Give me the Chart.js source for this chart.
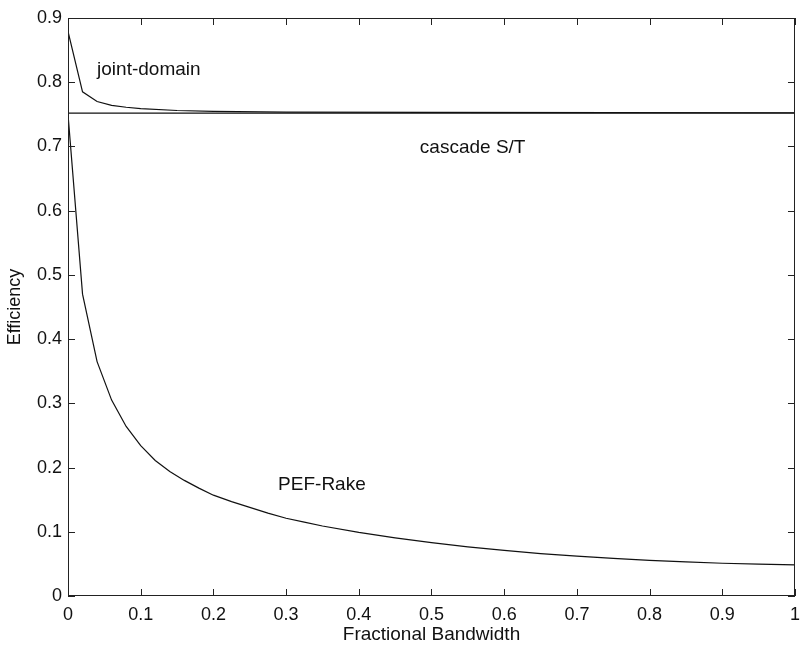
<!DOCTYPE html>
<html>
<head>
<meta charset="utf-8">
<script src="https://cdn.jsdelivr.net/npm/chart.js@4/dist/chart.umd.min.js"></script>
<style>
  html, body { margin: 0; padding: 0; background: #fff; }
  #wrap { width: 808px; height: 646px; }
</style>
</head>
<body>
<div id="wrap"><canvas id="effChart" width="808" height="646"></canvas></div>
<script>
// values
const pefX = [0, 0.02, 0.04, 0.06, 0.08, 0.10, 0.12, 0.14, 0.16, 0.18, 0.20, 0.225, 0.25, 0.275, 0.30, 0.325, 0.35, 0.40, 0.45, 0.50, 0.55, 0.60, 0.65, 0.70, 0.75, 0.80, 0.85, 0.90, 0.95, 1.00];
const pefY = [0.75, 0.47, 0.365, 0.305, 0.264, 0.234, 0.211, 0.194, 0.180, 0.168, 0.157, 0.147, 0.138, 0.129, 0.121, 0.115, 0.109, 0.099, 0.0905, 0.083, 0.0765, 0.071, 0.066, 0.062, 0.0585, 0.0555, 0.053, 0.051, 0.0495, 0.0485];

const jointX = [0, 0.02, 0.04, 0.06, 0.08, 0.10, 0.15, 0.20, 0.30, 0.50, 1.00];
const jointY = [0.879, 0.785, 0.770, 0.764, 0.761, 0.759, 0.756, 0.7545, 0.7535, 0.753, 0.7525];

const cascadeX = [0, 1];
const cascadeY = [0.752, 0.752];

const xTicks = [0, 0.1, 0.2, 0.3, 0.4, 0.5, 0.6, 0.7, 0.8, 0.9, 1];
const yTicks = [0, 0.1, 0.2, 0.3, 0.4, 0.5, 0.6, 0.7, 0.8, 0.9];

// curve labels: [text, x, y] (left edge, vertical middle)
const curveLabels = [
  ['joint-domain', 0.040, 0.819],
  ['cascade S/T', 0.484, 0.698],
  ['PEF-Rake', 0.289, 0.173]
];

function toPoints(xs, ys) {
  let pts = [];
  for (let i = 0; i < xs.length; i++) {
    pts.push({ x: xs[i], y: ys[i] });
  }
  return pts;
}

const FONT = '"Liberation Sans", Arial, Helvetica, sans-serif';

// box + inward ticks on all four sides, like the old matlab plots
const boxTicks = {
  id: 'boxTicks',
  afterDraw(chart) {
    const ctx = chart.ctx;
    const a = chart.chartArea;
    const xs = chart.scales.x, ys = chart.scales.y;
    ctx.save();
    ctx.strokeStyle = '#222';
    ctx.lineWidth = 1;
    ctx.strokeRect(a.left + 0.5, a.top + 0.5, a.right - a.left - 1, a.bottom - a.top - 1);
    ctx.beginPath();
    xTicks.forEach(v => {
      const px = Math.round(xs.getPixelForValue(v)) + 0.5;
      ctx.moveTo(px, a.bottom); ctx.lineTo(px, a.bottom - 7);
      ctx.moveTo(px, a.top); ctx.lineTo(px, a.top + 7);
    });
    yTicks.forEach(v => {
      const py = Math.round(ys.getPixelForValue(v)) + 0.5;
      ctx.moveTo(a.left, py); ctx.lineTo(a.left + 7, py);
      ctx.moveTo(a.right, py); ctx.lineTo(a.right - 7, py);
    });
    ctx.stroke();

    ctx.fillStyle = '#111';
    ctx.font = '19px ' + FONT;
    ctx.textAlign = 'left';
    ctx.textBaseline = 'middle';
    curveLabels.forEach(l => {
      ctx.fillText(l[0], xs.getPixelForValue(l[1]), ys.getPixelForValue(l[2]));
    });
    ctx.restore();
  }
};

const lineStyle = {
  borderColor: '#111',
  borderWidth: 1.2,
  pointRadius: 0,
  showLine: true,
  fill: false,
  tension: 0
};

let ctx = document.getElementById('effChart').getContext('2d');

let effChart = new Chart(ctx, {
  type: 'scatter',
  data: {
    datasets: [
      Object.assign({ label: 'PEF-Rake', data: toPoints(pefX, pefY) }, lineStyle),
      Object.assign({ label: 'joint-domain', data: toPoints(jointX, jointY) }, lineStyle),
      Object.assign({ label: 'cascade S/T', data: toPoints(cascadeX, cascadeY) }, lineStyle)
    ]
  },
  options: {
    responsive: false,
    animation: false,
    layout: {
      padding: { left: 0, right: 4, top: 18, bottom: 0 }
    },
    plugins: {
      legend: { display: false },
      tooltip: { enabled: false }
    },
    scales: {
      x: {
        type: 'linear',
        min: 0,
        max: 1,
        afterBuildTicks: s => { s.ticks = xTicks.map(v => ({ value: v })); },
        afterFit: s => { s.height = 50; },
        ticks: {
          color: '#111',
          font: { size: 18, family: FONT },
          padding: 8,
          maxRotation: 0,
          callback: v => String(v)
        },
        grid: { display: false, drawTicks: false },
        border: { display: false },
        title: {
          display: true,
          text: 'Fractional Bandwidth',
          color: '#111',
          font: { size: 19, family: FONT },
          padding: { top: 0, bottom: 0 }
        }
      },
      y: {
        type: 'linear',
        min: 0,
        max: 0.9,
        afterBuildTicks: s => { s.ticks = yTicks.map(v => ({ value: v })); },
        afterFit: s => { s.width = 68; },
        ticks: {
          color: '#111',
          font: { size: 18, family: FONT },
          padding: 6,
          callback: v => String(v)
        },
        grid: { display: false, drawTicks: false },
        border: { display: false },
        title: {
          display: true,
          text: 'Efficiency',
          color: '#111',
          font: { size: 18, family: FONT },
          padding: { top: 4, bottom: 0 }
        }
      }
    }
  },
  plugins: [boxTicks]
});
</script>
</body>
</html>
